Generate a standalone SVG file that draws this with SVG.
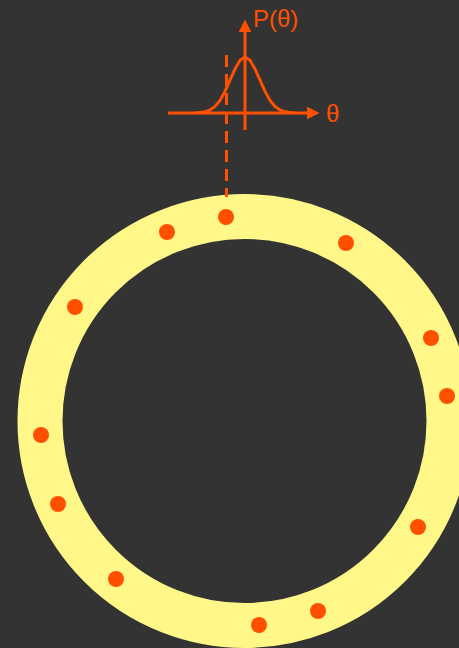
<svg xmlns="http://www.w3.org/2000/svg" width="459" height="648" viewBox="0 0 459 648">
<style>
.ax{stroke:#FF5000;stroke-width:3;fill:none}
.dot{fill:#FF5000}
.lbl{font-family:"Liberation Sans",Arial,sans-serif;font-size:24px;fill:#FF5000}
</style>
<defs>
<marker id="ah" viewBox="0 0 10 10" refX="0" refY="5" markerWidth="5" markerHeight="4.2" markerUnits="strokeWidth" orient="auto">
<path d="M0,0 L10,5 L0,10 Z" fill="#FF5000"/>
</marker>
</defs>
<rect width="459" height="648" fill="#333333"/>
<g id="ring">
<circle cx="244.5" cy="421" r="204.5" fill="none" stroke="#FFF788" stroke-width="45"/>
</g>
<g id="dots">
<circle class="dot" cx="226" cy="217" r="8"/>
<circle class="dot" cx="167" cy="232" r="8"/>
<circle class="dot" cx="346" cy="243" r="8"/>
<circle class="dot" cx="75" cy="307" r="8"/>
<circle class="dot" cx="431" cy="338" r="8"/>
<circle class="dot" cx="447" cy="396" r="8"/>
<circle class="dot" cx="41" cy="435" r="8"/>
<circle class="dot" cx="58" cy="504" r="8"/>
<circle class="dot" cx="418" cy="527" r="8"/>
<circle class="dot" cx="116" cy="579" r="8"/>
<circle class="dot" cx="318" cy="611" r="8"/>
<circle class="dot" cx="259" cy="625" r="8"/>
</g>
<g id="connectors">
<line class="ax" x1="226.5" y1="55" x2="226.5" y2="197" stroke-dasharray="12 7"/>
<line class="ax" x1="168" y1="113" x2="307" y2="113" marker-end="url(#ah)"/>
<line class="ax" x1="245" y1="130" x2="245" y2="32" marker-end="url(#ah)"/>
<path class="ax" d="M195,113 L200,112.6 L205,111.8 L210,110 L215,106.4 L220,100.4 L225,91.4 L230,80.2 L235,68.9 L240,60.2 L245,57 L250,60.2 L255,68.9 L260,80.2 L265,91.4 L270,100.4 L275,106.4 L280,110 L285,111.8 L290,112.6 L295,113"/>
</g>
<g id="labels">
<text class="lbl" x="253" y="27">P(θ)</text>
<text class="lbl" x="326" y="122">θ</text>
</g>
</svg>
